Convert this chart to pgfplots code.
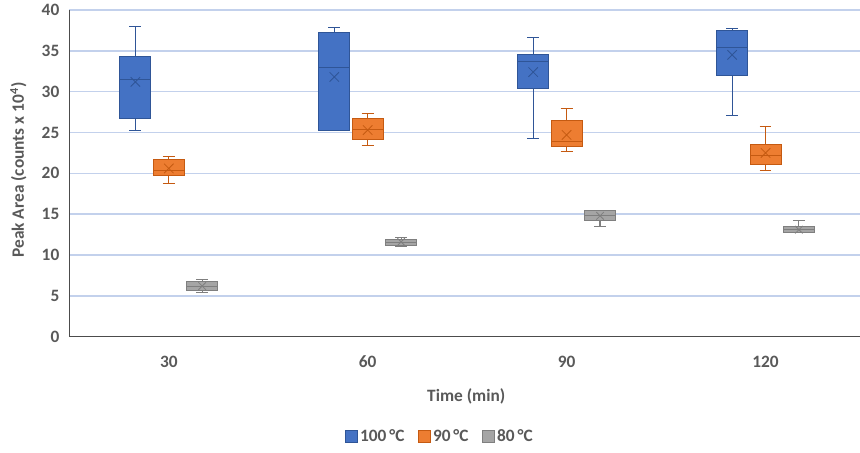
\documentclass[border=0pt]{standalone}
\usepackage{fontspec}
\setmainfont{Carlito}
\usepackage{pgfplots}
\pgfplotsset{compat=1.18}
\usetikzlibrary{calc}

\definecolor{cA}{HTML}{4472C4}\definecolor{cAd}{HTML}{2F5597}
\definecolor{cB}{HTML}{ED7D31}\definecolor{cBd}{HTML}{C55A11}
\definecolor{cC}{HTML}{A5A5A5}\definecolor{cCd}{HTML}{7F7F7F}
\definecolor{txt}{HTML}{595959}
\definecolor{gridc}{HTML}{C3D1EC}

% one box: position, fill, edge, lower whisker, lower quartile, median, upper quartile, upper whisker
\newcommand{\boxp}[8]{%
  \pgfmathsetmacro\bxL{#1-0.078}\pgfmathsetmacro\bxR{#1+0.078}%
  \pgfmathsetmacro\capL{#1-0.03}\pgfmathsetmacro\capR{#1+0.03}%
  \addplot[draw=#3, line width=0.8pt] coordinates {(#1,#4) (#1,#5)};
  \addplot[draw=#3, line width=0.8pt] coordinates {(#1,#7) (#1,#8)};
  \addplot[draw=#3, line width=0.8pt] coordinates {(\capL,#4) (\capR,#4)};
  \addplot[draw=#3, line width=0.8pt] coordinates {(\capL,#8) (\capR,#8)};
  \addplot[fill=#2, draw=#3, line width=0.7pt] coordinates {(\bxL,#5) (\bxR,#5) (\bxR,#7) (\bxL,#7)} -- cycle;
  \addplot[draw=#3, line width=0.7pt] coordinates {(\bxL,#6) (\bxR,#6)};
}

\begin{document}
\begin{tikzpicture}
\begin{axis}[
  scale only axis,
  width=593pt, height=245pt,
  xmin=-0.5, xmax=3.475,
  ymin=0, ymax=40,
  ytick={0,5,...,40},
  xtick={0,1,2,3},
  xticklabels={30,60,90,120},
  axis x line*=bottom, axis y line*=left,
  axis line style={draw=black!70, line width=0.8pt},
  major tick length=0pt,
  ymajorgrids,
  grid style={gridc, line width=1.2pt},
  font=\fontsize{13}{15}\selectfont\bfseries\color{txt},
  tick label style={font=\fontsize{13}{15}\selectfont\bfseries\color{txt}},
  /pgf/number format/assume math mode=true,
  xticklabel style={yshift=-11pt},
  yticklabel style={xshift=-4pt},
  xlabel={Time (min)},
  xlabel style={at={(axis description cs:0.502,-0.183)}, anchor=center},
  ylabel={Peak Area (counts x 10\textsuperscript{4})},
  ylabel style={at={(axis description cs:-0.0645,0.51)}, anchor=center},
  legend style={at={(0.469,-0.306)}, anchor=center, draw=none,
    legend columns=-1, font=\fontsize{13}{15}\selectfont\bfseries\color{txt},
    /tikz/every even column/.append style={column sep=8pt}},
  legend image code/.code={\draw[#1] (0pt,-4.5pt) rectangle (9pt,4.5pt);},
]
\coordinate (sw) at (rel axis cs:0,0);
\coordinate (ne) at (rel axis cs:1,1);

\addlegendimage{fill=cA, draw=cAd}
\addlegendentry{100\,°C}
\addlegendimage{fill=cB, draw=cBd}
\addlegendentry{90\,°C}
\addlegendimage{fill=cC, draw=cCd}
\addlegendentry{80\,°C}

% 100 °C
\boxp{-0.168}{cA}{cAd}{25.3}{26.7}{31.5}{34.3}{38.0}
\boxp{0.832}{cA}{cAd}{25.2}{25.3}{33.0}{37.2}{37.9}
\boxp{1.832}{cA}{cAd}{24.3}{30.4}{33.7}{34.6}{36.6}
\boxp{2.832}{cA}{cAd}{27.1}{32.0}{35.4}{37.5}{37.7}
% 90 °C
\boxp{0}{cB}{cBd}{18.8}{19.7}{20.4}{21.7}{22.1}
\boxp{1}{cB}{cBd}{23.4}{24.1}{25.4}{26.7}{27.3}
\boxp{2}{cB}{cBd}{22.7}{23.3}{23.9}{26.5}{27.9}
\boxp{3}{cB}{cBd}{20.3}{21.1}{22.2}{23.5}{25.7}
% 80 °C
\boxp{0.168}{cC}{cCd}{5.4}{5.6}{6.1}{6.8}{7.0}
\boxp{1.168}{cC}{cCd}{11.0}{11.2}{11.5}{11.9}{12.1}
\boxp{2.168}{cC}{cCd}{13.5}{14.2}{14.8}{15.4}{15.5}
\boxp{3.168}{cC}{cCd}{12.7}{12.8}{13.1}{13.5}{14.2}

% means
\addplot[only marks, mark=x, mark size=5pt, cAd, line width=0.6pt]
  coordinates {(-0.168,31.2) (0.832,31.8) (1.832,32.4) (2.832,34.5)};
\addplot[only marks, mark=x, mark size=5pt, cBd, line width=0.6pt]
  coordinates {(0,20.6) (1,25.3) (2,24.7) (3,22.5)};
\addplot[only marks, mark=x, mark size=4pt, cCd, line width=0.6pt]
  coordinates {(0.168,6.2) (1.168,11.6) (2.168,14.8) (3.168,13.1)};
\end{axis}
\pgfresetboundingbox
\path ($(sw)+(-52pt,-87pt)$) rectangle ($(ne)+(0,7.5pt)$);
\end{tikzpicture}
\end{document}
